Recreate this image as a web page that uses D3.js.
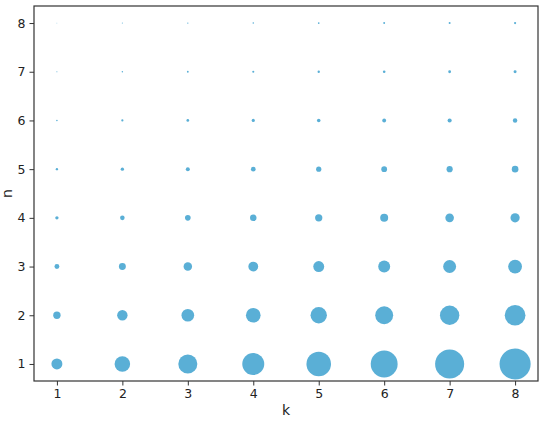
<!DOCTYPE html>
<html>
<head>
<meta charset="utf-8">
<script src="https://cdn.jsdelivr.net/npm/d3@7"></script>
<style>
  body { margin: 0; background: #fff; }
  text { font-family: "DejaVu Sans", sans-serif; }
</style>
</head>
<body>
<svg id="chart"></svg>
<script>
// k along x, n along y
const kValues = [1, 2, 3, 4, 5, 6, 7, 8];
const nValues = [1, 2, 3, 4, 5, 6, 7, 8];

// marker sizes (area), one row for each n
const sizeN1 = [121, 242, 363, 484, 605, 726, 847, 968];
const sizeN2 = [54, 108, 161, 215, 269, 323, 376, 430];
const sizeN3 = [24, 48, 72, 96, 120, 143, 167, 191];
const sizeN4 = [11, 21, 32, 42, 53, 64, 74, 85];
const sizeN5 = [5.5, 11, 16, 22, 27, 33, 38, 44];
const sizeN6 = [2.5, 5, 7.5, 10, 12.5, 15, 17, 20];
const sizeN7 = [1.1, 2.2, 3.3, 4.4, 5.5, 6.6, 7.7, 8.8];
const sizeN8 = [0.6, 1.2, 1.8, 2.4, 3, 3.6, 4.2, 4.8];
const sizeRows = [sizeN1, sizeN2, sizeN3, sizeN4, sizeN5, sizeN6, sizeN7, sizeN8];

const xTicks = [1, 2, 3, 4, 5, 6, 7, 8];
const yTicks = [1, 2, 3, 4, 5, 6, 7, 8];

let margin = { top: 6, right: 12, bottom: 40, left: 34 },
    width = 550 - margin.left - margin.right,
    height = 421 - margin.top - margin.bottom;

let svg = d3.select("#chart")
    .attr("width", 550)
    .attr("height", 421);

let g = svg.append("g")
    .attr("transform", "translate(" + margin.left + "," + margin.top + ")");

let xScale = d3.scaleLinear().domain([0.65, 8.35]).range([0, width]);
let yScale = d3.scaleLinear().domain([0.65, 8.35]).range([height, 0]);
// radius from area
let rScale = d3.scaleSqrt().domain([0, 1000]).range([0, 15.8]);

let points = [];
nValues.forEach((n, i) => {
    kValues.forEach((k, j) => {
        points.push({ k: k, n: n, s: sizeRows[i][j] });
    });
});

g.append("g")
    .selectAll("circle")
    .data(points)
    .enter().append("circle")
    .attr("cx", d => xScale(d.k))
    .attr("cy", d => yScale(d.n))
    .attr("r", d => rScale(d.s))
    .attr("fill", "#5aafd6");

// axes
let xAxis = g.append("g")
    .attr("transform", "translate(0," + height + ")")
    .call(d3.axisBottom(xScale).tickValues(xTicks).tickFormat(d3.format("d")).tickSizeOuter(0).tickSize(4.5).tickPadding(4));

let yAxis = g.append("g")
    .call(d3.axisLeft(yScale).tickValues(yTicks).tickFormat(d3.format("d")).tickSizeOuter(0).tickSize(4.5).tickPadding(4));

[xAxis, yAxis].forEach(ax => {
    ax.selectAll("text").attr("font-size", 12.5).attr("fill", "#222").style("font-family", "DejaVu Sans, sans-serif");
    ax.selectAll("line").attr("stroke", "#333");
    ax.select(".domain").remove();
});

// frame
g.append("rect")
    .attr("x", 0)
    .attr("y", 0)
    .attr("width", width)
    .attr("height", height)
    .attr("fill", "none")
    .attr("stroke", "#333")
    .attr("stroke-width", 1.2);

svg.append("text")
    .attr("x", margin.left + width / 2)
    .attr("y", 415)
    .attr("text-anchor", "middle")
    .attr("font-size", 14)
    .attr("fill", "#222")
    .text("k");

svg.append("text")
    .attr("transform", "translate(12," + (margin.top + height / 2) + ") rotate(-90)")
    .attr("text-anchor", "middle")
    .attr("font-size", 14)
    .attr("fill", "#222")
    .text("n");
</script>
</body>
</html>
